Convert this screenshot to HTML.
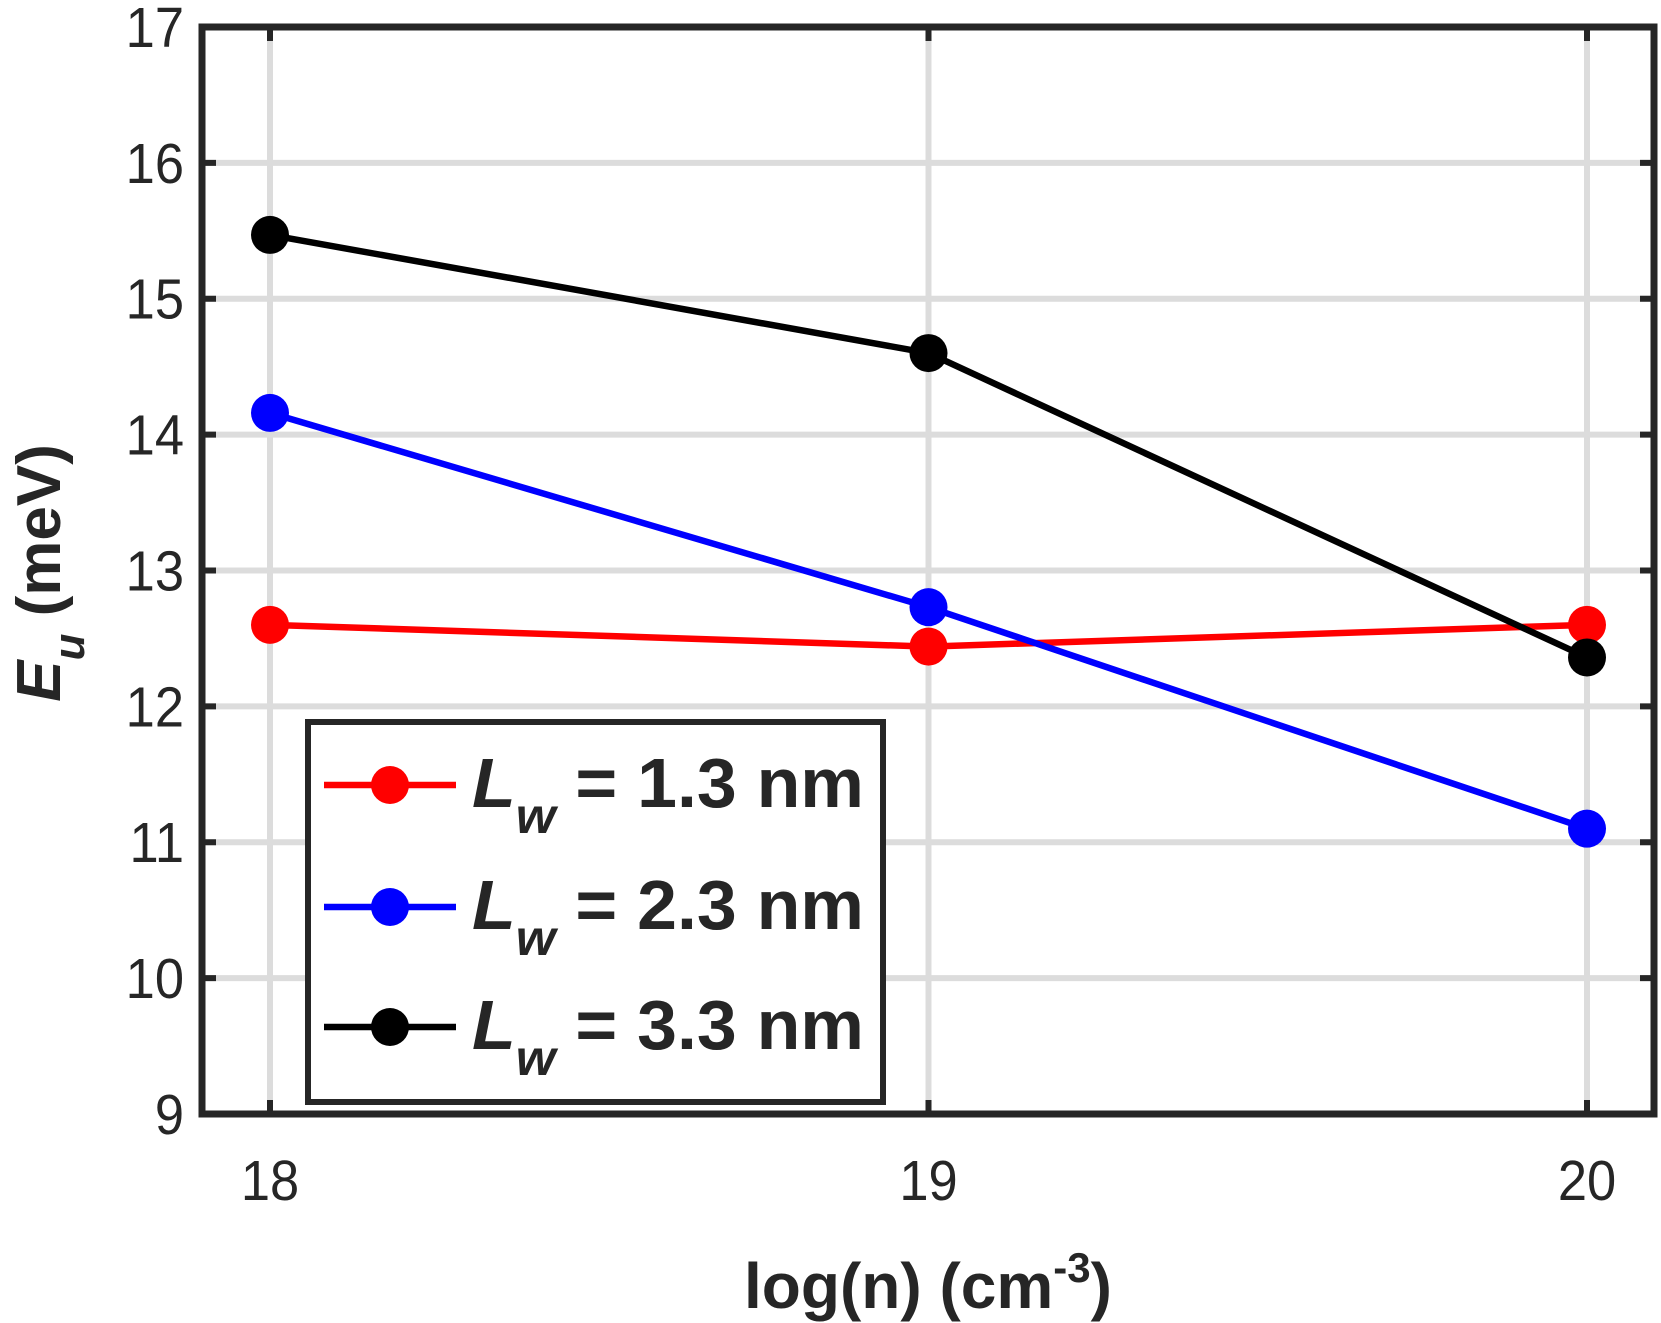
<!DOCTYPE html>
<html><head><meta charset="utf-8"><style>body{margin:0;background:#fff}svg{display:block}text{font-family:"Liberation Sans",sans-serif;fill:#262626}</style></head>
<body>
<svg id="chart" width="1661" height="1323" viewBox="0 0 1661 1323">
<g id="grid"></g><g id="series"></g><g id="axes"></g><g id="legend"></g>
</svg>
<script>
const xCats=[18,19,20];
const yTicks=[9,10,11,12,13,14,15,16,17];
const seriesNames=["L_w = 1.3 nm","L_w = 2.3 nm","L_w = 3.3 nm"];
const seriesColors=["#ff0000","#0000ff","#000000"];
const red=[12.6,12.44,12.6];
const blue=[14.16,12.73,11.1];
const black=[15.47,14.6,12.36];
const allSeries=[red,blue,black];
const L=202,R=1654,T=27,B=1114;
const xs=v=>270+(v-18)*(1587-270)/2;
const ys=v=>B-(v-9)*(B-T)/8;
const NS="http://www.w3.org/2000/svg";
function mk(tag,attrs,parent){const e=document.createElementNS(NS,tag);for(const k in attrs)e.setAttribute(k,attrs[k]);parent.appendChild(e);return e;}
const grid=document.getElementById('grid'),ser=document.getElementById('series'),ax=document.getElementById('axes'),lg=document.getElementById('legend');
xCats.forEach(c=>{const l=mk('line',{x1:xs(c),x2:xs(c),y1:T,y2:B,stroke:'#dcdcdc','stroke-width':6},grid);


const t=mk('text',{x:xs(c),y:1200,'text-anchor':'middle','font-size':57,transform:'translate('+xs(c)+',0) scale(0.92,1) translate('+(-xs(c))+',0)'},ax);t.textContent=c;


mk('line',{x1:xs(c),x2:xs(c),y1:B,y2:B-14,stroke:'#262626','stroke-width':6},ax);
mk('line',{x1:xs(c),x2:xs(c),y1:T,y2:T+14,stroke:'#262626','stroke-width':6},ax);});
yTicks.forEach(v=>{const l=mk('line',{x1:L,x2:R,y1:ys(v),y2:ys(v),stroke:'#dcdcdc','stroke-width':6},grid);


const t=mk('text',{x:184,y:ys(v)+20,'text-anchor':'end','font-size':57,transform:'translate(184,0) scale(0.92,1) translate(-184,0)'},ax);t.textContent=v;


mk('line',{x1:L,x2:L+14,y1:ys(v),y2:ys(v),stroke:'#262626','stroke-width':6},ax);
mk('line',{x1:R,x2:R-14,y1:ys(v),y2:ys(v),stroke:'#262626','stroke-width':6},ax);});
allSeries.forEach((s,i)=>{const pts=s.map((v,j)=>xs(xCats[j])+','+ys(v)).join(' ');
const pl=mk('polyline',{points:pts,fill:'none',stroke:seriesColors[i],'stroke-width':6.5},ser);


s.forEach((v,j)=>{const c=mk('circle',{cx:xs(xCats[j]),cy:ys(v),r:19,fill:seriesColors[i]},ser);

});});
const fr=mk('rect',{x:L,y:T,width:R-L,height:B-T,fill:'none',stroke:'#262626','stroke-width':7},ax);


const xl=mk('text',{x:928,y:1308,'text-anchor':'middle','font-size':64,'font-weight':'bold'},ax);
xl.innerHTML='log(n) (cm<tspan dy="-26" font-size="42">-3</tspan><tspan dy="26">)</tspan>';


const yl=mk('text',{transform:'translate(60,573) rotate(-90)','text-anchor':'middle','font-size':62,'font-weight':'bold'},ax);
yl.innerHTML='<tspan font-style="italic">E</tspan><tspan font-style="italic" font-size="44" dy="24">u</tspan><tspan dy="-24"> (meV)</tspan>';


const box=mk('rect',{x:308,y:722,width:575,height:380,fill:'#fff',stroke:'#262626','stroke-width':6},lg);


const labs=['1.3','2.3','3.3'];
[785,907,1027].forEach((y,i)=>{mk('line',{x1:324,x2:456,y1:y,y2:y,stroke:seriesColors[i],'stroke-width':6.5},lg);
mk('circle',{cx:390,cy:y,r:19,fill:seriesColors[i]},lg);
const t=mk('text',{x:472,y:y+22,'font-size':70,'font-weight':'bold',fill:'#000',textLength:392,lengthAdjust:'spacingAndGlyphs'},lg);
t.innerHTML='<tspan font-style="italic">L</tspan><tspan font-style="italic" font-size="50" dy="26">w</tspan><tspan dy="-26"> = '+labs[i]+' nm</tspan>';

});
</script>
</body></html>
